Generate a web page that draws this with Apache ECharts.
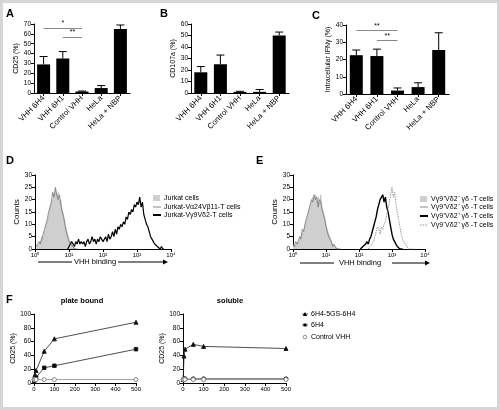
<!DOCTYPE html>
<html><head><meta charset="utf-8">
<script src="https://cdn.jsdelivr.net/npm/echarts@6/dist/echarts.min.js"></script>
<style>html,body{margin:0;padding:0;background:#fff}#c{width:500px;height:410px}</style>
</head><body><div id="c"></div>
<script>
// ---------- DATA ----------
const categories = ['VHH 6H4','VHH 6H1','Control VHH','HeLa','HeLa + NBP'];
const A_values = [29, 35, 1.5, 5, 65];
const A_errors = [8, 7, 0.5, 2.5, 4];
const A_sig = [['VHH 6H4','Control VHH',66,'*'],['VHH 6H1','Control VHH',57,'**']];
const B_values = [18, 25, 1, 1, 50];
const B_errors = [5, 8, 0.5, 2, 3];
const C_values = [22.5, 22, 2, 4, 25.5];
const C_errors = [3, 4, 1.5, 2.5, 10];
const C_sig = [['VHH 6H4','Control VHH',37,'**'],['VHH 6H1','Control VHH',31,'**']];
const logTickLabels = ['10⁰','10¹','10²','10³','10⁴'];
const BIN = 0.04; // histogram bin width in log10 units
// D histograms (counts per bin, start position in log10)
const D_jurkat_start = 0.04;
const D_jurkat = [2,1,2,3,5,4,7,9,11,13,16,18,20,22,24,21,23,19,20,16,14,11,8,6,4,3,2,1,1,0,0];
const D_va24_start = 0.04;
const D_va24 = [1,2,3,2,4,6,8,10,12,15,17,19,23,21,25,22,20,22,18,15,13,10,7,5,3,2,2,1,0,0,0];
const D_vg9_start = 0.96;
const D_vg9 = [0,1,2,3,2,1,3,2,4,2,3,2,3,1,3,4,2,3,5,3,4,2,4,3,5,4,3,4,5,3,6,4,5,7,5,8,6,9,8,
  10,9,11,10,13,12,15,14,16,15,18,17,19,18,21,17,19,14,12,10,9,7,5,4,3,2,2,1,1,0,1,0,0];
// E histograms
const E_fill_start = 0.0;
const E_fill = [1,2,1,3,2,4,5,7,6,9,11,13,15,17,19,21,20,22,19,21,18,22,17,15,13,10,8,6,5,3,2,2,1,1,0,0,0];
const E_line_start = 0.0;
const E_line = [2,1,3,2,3,5,4,8,7,10,12,14,14,18,20,19,22,20,21,17,20,19,16,14,12,9,7,5,4,3,1,2,1,0,0,0,0];
const E_black_start = 2.04;
const E_black = [0,0,1,1,2,3,2,4,5,7,9,11,13,16,18,20,21,22,19,21,17,15,12,9,6,4,3,2,1,1,0,0,0];
const E_dot_start = 2.28;
const E_dot = [0,1,1,2,3,5,7,9,8,6,9,8,10,11,14,16,19,22,25,21,23,18,15,12,9,6,4,3,2,1,1,0,0,0,0,0];
// F dose response
const F_dose = [1, 5, 10, 50, 100, 500];
const plate_5GS = [8, 12, 18, 46, 64, 88];
const plate_6H4 = [3, 5, 8, 22, 25, 49];
const plate_ctrl = [5, 5, 5, 5, 5, 5];
const sol_5GS = [5, 39, 49, 56, 53, 50];
const sol_6H4 = [5, 6, 6, 6, 6, 6];
const sol_ctrl = [5, 5, 5, 5, 5, 5];

// ---------- HELPERS ----------
const FF = 'Liberation Sans, Arial, sans-serif';
const pairs = (xs, ys) => xs.map((x, i) => [x, ys[i]]);
const hist = (start, counts) => counts.map((c, i) => [+(start + i * BIN).toFixed(3), c]);
const axLine = {show:true, lineStyle:{color:'#000', width:1}};
const axTick = {show:true, length:3, lineStyle:{color:'#000', width:1}};

function catX(g) {
  return {type:'category', gridIndex:g, data:categories, axisLine:axLine,
    axisTick:{show:true, length:3, alignWithLabel:true, lineStyle:{color:'#000'}},
    axisLabel:{rotate:45, fontSize:7.8, color:'#000', fontFamily:FF, margin:4, interval:0}};
}
function valY(g, max, interval, name, gap, fs) {
  return {type:'value', gridIndex:g, min:0, max:max, interval:interval,
    axisLine:axLine, axisTick:axTick, splitLine:{show:false},
    axisLabel:{fontSize:6.5, color:'#000', fontFamily:FF, margin:3},
    name:name, nameLocation:'middle', nameGap:gap,
    nameTextStyle:{fontSize:fs||7, color:'#000', fontFamily:FF}};
}
function valX(g, min, max, interval, fmt) {
  return {type:'value', gridIndex:g, min:min, max:max, interval:interval,
    axisLine:Object.assign({onZero:false}, axLine), axisTick:axTick, splitLine:{show:false},
    axisLabel:{fontSize:6, color:'#000', fontFamily:FF, margin:3, formatter:fmt}};
}
function barSeries(g, vals, sig) {
  const s = {type:'bar', xAxisIndex:g, yAxisIndex:g, data:vals, barWidth:13,
    itemStyle:{color:'#000'}, silent:true};
  if (sig) {
    s.markLine = {symbol:'none', silent:true, animation:false,
      lineStyle:{color:'#888', width:1, type:'solid'},
      label:{show:true, position:'middle', fontSize:7, color:'#000', fontFamily:FF, distance:1},
      data: sig.map(d => [{coord:[d[0], d[2]], label:{formatter:d[3]}}, {coord:[d[1], d[2]]}])};
  }
  return s;
}
function errSeries(g, vals, errs) {
  return {type:'custom', xAxisIndex:g, yAxisIndex:g, silent:true,
    data: vals.map((v, i) => [i, v, errs[i]]),
    renderItem: (params, api) => {
      const base = api.coord([api.value(0), api.value(1)]);
      const top = api.coord([api.value(0), api.value(1) + api.value(2)]);
      const st = {stroke:'#000', lineWidth:1};
      return {type:'group', children:[
        {type:'line', shape:{x1:base[0], y1:base[1], x2:top[0], y2:top[1]}, style:st},
        {type:'line', shape:{x1:top[0]-4, y1:top[1], x2:top[0]+4, y2:top[1]}, style:st}
      ]};
    }};
}
function lineSeries(g, data, color, width, type, area) {
  const s = {type:'line', xAxisIndex:g, yAxisIndex:g, data:data, symbol:'none',
    lineStyle:{color:color, width:width, type:type||'solid'}, silent:true, z:area?1:3};
  if (area) s.areaStyle = {color:area, opacity:1};
  return s;
}
function doseSeries(g, ys, symbol, size, color, fill) {
  return {type:'line', xAxisIndex:g, yAxisIndex:g, data:pairs(F_dose, ys), symbol:symbol,
    symbolSize:size, lineStyle:{color:color, width:0.8},
    itemStyle:{color:fill, borderColor:color, borderWidth:1}, silent:true};
}

// ---------- GRAPHIC (labels, legends) ----------
const T = (text, x, y, o) => Object.assign({type:'text', style:Object.assign({text:text, x:x, y:y,
  fontSize:7, fontFamily:FF, fill:'#000', align:'left', verticalAlign:'middle'}, o||{})});
const L = (x1, y1, x2, y2, stroke, w, dash) => ({type:'line', shape:{x1, y1, x2, y2},
  style:{stroke:stroke, lineWidth:w, lineDash:dash||null}});
const arrowHead = (x, y) => ({type:'polygon', shape:{points:[[x-5,y-2.5],[x,y],[x-5,y+2.5]]}, style:{fill:'#000'}});
const letter = (t, x, y) => T(t, x, y, {fontSize:11, fontWeight:'bold'});

const graphic = [
  {type:'rect', shape:{x:1.5, y:1.5, width:497, height:407}, style:{fill:'none', stroke:'#d6d6d6', lineWidth:3}},
  letter('A', 6, 14), letter('B', 160, 14), letter('C', 312, 16),
  letter('D', 6, 161), letter('E', 256, 161), letter('F', 6, 300),
  T('plate bound', 82, 301, {fontWeight:'bold', align:'center', fontSize:7.5}),
  T('soluble', 230, 301, {fontWeight:'bold', align:'center', fontSize:7.5}),
  // D x label
  L(38, 262, 72, 262, '#000', 1), T('VHH binding', 95, 262, {align:'center', fontSize:7.5}),
  L(118, 262, 164, 262, '#000', 1), arrowHead(168, 262),
  // E x label
  L(300, 263, 334, 263, '#000', 1), T('VHH binding', 360, 263, {align:'center', fontSize:7.5}),
  L(392, 263, 426, 263, '#000', 1), arrowHead(430, 263),
  // D legend
  {type:'rect', shape:{x:153, y:195, width:7, height:6}, style:{fill:'#cfcfcf'}},
  T('Jurkat cells', 164, 198),
  L(153, 207, 161, 207, '#888', 1), T('Jurkat-Vα24Vβ11-T cells', 164, 207),
  L(153, 215, 161, 215, '#000', 2), T('Jurkat-Vγ9Vδ2-T cells', 164, 215),
  // E legend
  {type:'rect', shape:{x:420, y:196, width:7, height:6}, style:{fill:'#cfcfcf'}},
  T('Vγ9⁺Vδ2⁻ γδ -T cells', 431, 199),
  L(420, 207, 428, 207, '#888', 1), T('Vγ9⁺Vδ2⁻ γδ -T cells', 431, 207),
  L(420, 216, 428, 216, '#000', 2), T('Vγ9⁺Vδ2⁺ γδ -T cells', 431, 216),
  L(420, 225, 428, 225, '#999', 1, [1.5, 1]), T('Vγ9⁻Vδ2⁺ γδ -T cells', 431, 225),
  // F legend
  L(302, 314, 308, 314, '#333', 0.8), {type:'polygon', shape:{points:[[305,312],[307.2,316],[302.8,316]]}, style:{fill:'#000'}},
  T('6H4-5GS-6H4', 311, 314),
  L(302, 325, 308, 325, '#333', 0.8), {type:'rect', shape:{x:303.5, y:323.5, width:3, height:3}, style:{fill:'#000'}},
  T('6H4', 311, 325),
  {type:'circle', shape:{cx:305, cy:337, r:1.8}, style:{fill:'#fff', stroke:'#777', lineWidth:0.8}},
  T('Control VHH', 311, 337)
];

// ---------- CHART ----------
const chart = echarts.init(document.getElementById('c'), null, {renderer:'canvas'});
chart.setOption({
  animation:false,
  backgroundColor:'#fff',
  textStyle:{fontFamily:FF},
  grid:[
    {left:34, top:24, width:96, height:69},
    {left:191, top:24, width:98, height:69},
    {left:346, top:25, width:103, height:69},
    {left:35, top:175, width:136, height:74},
    {left:293, top:175, width:132, height:74},
    {left:34, top:314, width:102, height:69},
    {left:183, top:314, width:103, height:69}
  ],
  xAxis:[
    catX(0), catX(1), catX(2),
    valX(3, 0, 4, 1, v => logTickLabels[Math.round(v)]),
    valX(4, 0, 4, 1, v => logTickLabels[Math.round(v)]),
    valX(5, 0, 500, 100), valX(6, 0, 500, 100)
  ],
  yAxis:[
    valY(0, 70, 10, 'CD25 (%)', 14),
    valY(1, 60, 10, 'CD107a (%)', 14),
    valY(2, 40, 10, 'Intracellular IFNγ (%)', 14),
    valY(3, 30, 5, 'Counts', 14, 8),
    valY(4, 30, 5, 'Counts', 14, 8),
    valY(5, 100, 20, 'CD25 (%)', 17),
    valY(6, 100, 20, 'CD25 (%)', 17)
  ],
  series:[
    barSeries(0, A_values, A_sig), errSeries(0, A_values, A_errors),
    barSeries(1, B_values), errSeries(1, B_values, B_errors),
    barSeries(2, C_values, C_sig), errSeries(2, C_values, C_errors),
    lineSeries(3, hist(D_jurkat_start, D_jurkat), '#aaa', 0.5, 'solid', '#cfcfcf'),
    lineSeries(3, hist(D_va24_start, D_va24), '#777', 0.8),
    lineSeries(3, hist(D_vg9_start, D_vg9), '#000', 1.2),
    lineSeries(4, hist(E_fill_start, E_fill), '#aaa', 0.5, 'solid', '#cfcfcf'),
    lineSeries(4, hist(E_line_start, E_line), '#777', 0.8),
    lineSeries(4, hist(E_black_start, E_black), '#000', 1.4),
    lineSeries(4, hist(E_dot_start, E_dot), '#999', 1, [1.5, 1]),
    doseSeries(5, plate_5GS, 'triangle', 4, '#222', '#000'),
    doseSeries(5, plate_6H4, 'rect', 3.5, '#222', '#000'),
    doseSeries(5, plate_ctrl, 'circle', 4, '#888', '#fff'),
    doseSeries(6, sol_5GS, 'triangle', 4, '#222', '#000'),
    doseSeries(6, sol_6H4, 'circle', 4, '#222', '#000'),
    doseSeries(6, sol_ctrl, 'circle', 4, '#888', '#fff')
  ],
  graphic: graphic
});
</script>
</body></html>
